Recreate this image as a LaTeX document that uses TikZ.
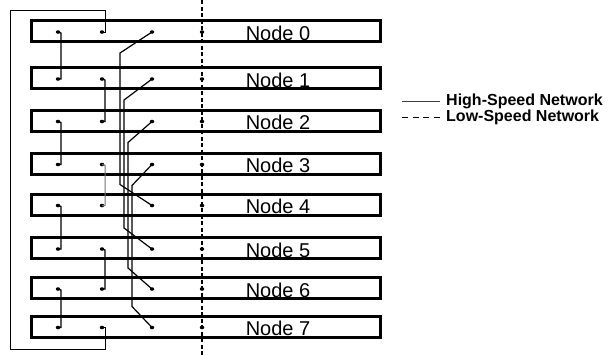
\documentclass[tikz,border=0pt]{standalone}
\usepackage{fontspec}
\setmainfont{Liberation Sans}
\usetikzlibrary{calc,shapes.geometric}

\tikzset{
  nodebox/.style={draw, line width=3pt, minimum width=349pt, minimum height=21pt, inner sep=0pt},
  port/.style={ellipse, fill, inner sep=0pt, minimum width=4.5pt, minimum height=3.5pt},
  hsnet/.style={line width=1.2pt},
  lsnet/.style={line width=1.4pt, dash pattern=on 4pt off 2.5pt},
  nodelabel/.style={font=\fontsize{20}{24}\selectfont, anchor=base, inner sep=0pt},
  legendlabel/.style={font=\fontsize{16}{19}\selectfont\bfseries, anchor=west, inner sep=0pt},
}

\begin{document}
\begin{tikzpicture}[x=1pt, y=-1pt]
    \useasboundingbox (0,0) rectangle (613,356);

    % draw low-speed network
    \coordinate (lstop) at (202,0);
    \coordinate (lsbot) at (202,356);
    \draw[lsnet] (lstop) -- (lsbot);

    % draw node boxes and ports
    \foreach \i/\y in {0/31,1/78,2/120.5,3/163.5,4/204.5,5/248,6/288,7/326.5}{
      \node[nodebox] (box\i) at (206,\y) {};
      \node[nodelabel] (lab\i) at (278,\y+9) {Node \i};
      \node[port] (a\i) at (58,\y+1) {};
      \node[port] (b\i) at (102,\y+1) {};
      \node[port] (c\i) at (152,\y+1) {};
      \node[port] (d\i) at (202,\y+1) {};
    }

    % draw high-speed ring, first column
    \foreach \i/\j in {0/1,2/3,4/5,6/7}
      \draw[hsnet] (a\i.center) -- ++(3,1) |- (a\j.center);

    % second column
    \draw[hsnet] (b1.center) -- ++(3,1) |- (b2.center);
    \draw[line width=1pt, black!55] (b3.center) -- ++(3,1) |- (b4.center);
    \draw[hsnet] (b5.center) -- ++(3,1) |- (b6.center);

    % outer loop from node 0 to node 7
    \coordinate (ringnw) at (10,10);
    \coordinate (ringsw) at (10,349);
    \draw[line width=1pt] (b0.center) -- ++(3,0) |- (ringnw) -- (ringsw)
      -| ($(b7.center)+(3,0)$) -- (b7.center);

    % crossing links, node i to node i+4
    \foreach \i in {0,...,3}{
      \pgfmathtruncatemacro\j{\i+4}
      \pgfmathsetmacro\dx{-32+4*\i}
      \draw[hsnet] (c\i.center) -- ++(\dx,21) -- ($(c\j.center)+(\dx,-21)$) -- (c\j.center);
    }

    % legend
    \coordinate (hsa) at (402,101);
    \coordinate (hsb) at (440,101);
    \coordinate (lsa) at (402,117);
    \coordinate (lsb) at (440,117);
    \draw[line width=0.9pt, black!75] (hsa) -- (hsb);
    \draw[line width=0.9pt, dash pattern=on 6pt off 4.5pt] (lsa) -- (lsb);
    \node[legendlabel] (hslab) at (446,101) {High-Speed Network};
    \node[legendlabel] (lslab) at (446,117) {Low-Speed Network};
\end{tikzpicture}
\end{document}
